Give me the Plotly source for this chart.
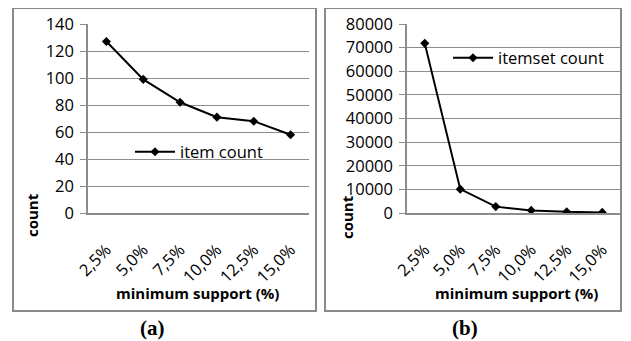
import plotly.graph_objects as go

categories = ["2,5%", "5,0%", "7,5%", "10,0%", "12,5%", "15,0%"]
item_count = [127, 99, 82, 71, 68, 58]
itemset_count = [71800, 10100, 2700, 1100, 500, 250]
y_ticks_a = [0, 20, 40, 60, 80, 100, 120, 140]
y_ticks_b = [0, 10000, 20000, 30000, 40000, 50000, 60000, 70000, 80000]

# the page puts the figure 8px from the top-left corner
OFF = 8
W, H = 631 - OFF, 341 - OFF
FONT = "Open Sans"
FS = 16.5
GRID = "#8c8c8c"


def px_x(p):
    return (p - OFF) / W


def px_y(p):
    return 1 - (p - OFF) / H


fig = go.Figure()
fig.add_trace(go.Scatter(
    x=categories, y=item_count, mode="lines+markers", name="item count",
    line=dict(color="black", width=2),
    marker=dict(symbol="diamond", size=7, color="black"),
    xaxis="x", yaxis="y", legend="legend", showlegend=True))
fig.add_trace(go.Scatter(
    x=categories, y=itemset_count, mode="lines+markers", name="itemset count",
    line=dict(color="black", width=2),
    marker=dict(symbol="diamond", size=7, color="black"),
    xaxis="x2", yaxis="y2", legend="legend2", showlegend=True))

common_x = dict(type="category", range=[-0.5, 5.5], showgrid=False, showline=True,
                linecolor=GRID, linewidth=1.5, tickangle=-45, ticks="",
                tickfont=dict(family=FONT, size=FS, color="black"),
                ticklabelstandoff=19, fixedrange=True, automargin=False)
common_y = dict(showgrid=True, gridcolor=GRID, gridwidth=1.3, zeroline=False,
                showline=True, linecolor=GRID, linewidth=1.5, ticks="outside",
                ticklen=6, tickcolor=GRID, tickwidth=1.3, automargin=False,
                ticklabelstandoff=3,
                tickfont=dict(family=FONT, size=FS, color="black"),
                domain=[px_y(213), px_y(24)])


def ann(text, x, y, size=15, family=FONT, angle=0):
    return dict(text=text, xref="paper", yref="paper", x=px_x(x), y=px_y(y),
                xanchor="center", yanchor="middle", textangle=angle, showarrow=False,
                font=dict(family=family, size=size, color="black"))


fig.update_layout(
    template="none",
    width=W, height=H, margin=dict(l=0, r=0, t=0, b=0, pad=0, autoexpand=False),
    paper_bgcolor="white", plot_bgcolor="white", showlegend=True,
    xaxis=dict(common_x, domain=[px_x(88), px_x(309)], anchor="y"),
    yaxis=dict(common_y, range=[0, 140], tickvals=y_ticks_a, anchor="x"),
    xaxis2=dict(common_x, domain=[px_x(407), px_x(620)], anchor="y2"),
    yaxis2=dict(common_y, range=[0, 80000], tickvals=y_ticks_b,
                ticktext=[str(v) for v in y_ticks_b], anchor="x2"),
    legend=dict(x=px_x(130), y=px_y(152), xanchor="left", yanchor="middle",
                bgcolor="rgba(0,0,0,0)", itemwidth=40, borderwidth=0,
                font=dict(family=FONT, size=FS, color="black")),
    legend2=dict(x=px_x(448), y=px_y(58), xanchor="left", yanchor="middle",
                 bgcolor="rgba(0,0,0,0)", itemwidth=40, borderwidth=0,
                 font=dict(family=FONT, size=FS, color="black")),
    shapes=[
        dict(type="rect", xref="paper", yref="paper", x0=px_x(13), x1=px_x(316),
             y0=px_y(311), y1=px_y(8), line=dict(color="#8a8a8a", width=2)),
        dict(type="rect", xref="paper", yref="paper", x0=px_x(325), x1=px_x(621),
             y0=px_y(311), y1=px_y(8), line=dict(color="#8a8a8a", width=2)),
    ],
    annotations=[
        ann("<b>count</b>", 32, 215, angle=-90),
        ann("<b>count</b>", 347, 217, angle=-90),
        ann("<b>minimum support (%)</b>", 197, 293),
        ann("<b>minimum support (%)</b>", 516, 293),
        ann("<b>(a)</b>", 152, 328, size=21, family="Liberation Serif"),
        ann("<b>(b)</b>", 465, 328, size=21, family="Liberation Serif"),
    ],
)

fig.write_html("out.html")
